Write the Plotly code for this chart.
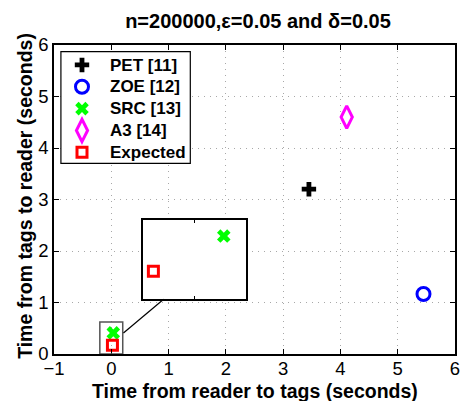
import plotly.graph_objects as go

# Data
names = ["PET [11]", "ZOE [12]", "SRC [13]", "A3 [14]", "Expected"]
x_reader_to_tags = [3.45, 5.45, 0.035, 4.11, 0.02]
y_tags_to_reader = [3.2, 1.165, 0.41, 4.6, 0.17]
colors = ["black", "blue", "#00ff00", "magenta", "red"]
symbols = ["cross", "circle-open", "x", "diamond-tall-open", "square-open"]
sizes = [12, 13, 12, 16, 10]
xticks = [-1, 0, 1, 2, 3, 4, 5, 6]
yticks = [0, 1, 2, 3, 4, 5, 6]

# Zoom region (main axes data coords) and inset view range
zoom_x = [-0.2, 0.2]
zoom_y = [0.0, 0.62]
inset_xr = [0.0177, 0.0398]
inset_yr = [-0.0186, 0.517]

FONT = "Liberation Sans, Arial"

fig = go.Figure()
for i, n in enumerate(names):
    fig.add_trace(go.Scatter(
        x=[x_reader_to_tags[i]], y=[y_tags_to_reader[i]], mode="markers",
        name="<span style='font-size:17px'><b>" + n + "</b></span>",
        marker=dict(symbol=symbols[i], color=colors[i], size=sizes[i],
                    line=dict(color=colors[i], width=3 if "open" in symbols[i] else 0)),
    ))
# inset copies (SRC, Expected)
for i in [2, 4]:
    fig.add_trace(go.Scatter(
        x=[x_reader_to_tags[i]], y=[y_tags_to_reader[i]], mode="markers", showlegend=False,
        xaxis="x2", yaxis="y2",
        marker=dict(symbol=symbols[i], color=colors[i], size=sizes[i],
                    line=dict(color=colors[i], width=3 if "open" in symbols[i] else 0)),
    ))

L, R, T, B = 54, 9, 45, 47
W, H = 469, 401
pw, ph = W - L - R, H - T - B

def px(xp):
    return (xp - L) / pw

def py(yp):
    return (H - B - yp) / ph

inset_dom_x = [px(143.7), px(248.7)]
inset_dom_y = [py(299), py(220.3)]

axis_common = dict(
    showgrid=True, gridcolor="#a8a8a8", griddash="1px,5px", gridwidth=1,
    zeroline=False, showline=True, linecolor="black", linewidth=1.5, mirror="ticks",
    ticks="inside", ticklen=5, tickcolor="black",
    tickfont=dict(family=FONT, size=18.5, color="black"),
)

fig.update_layout(
    width=W, height=H,
    margin=dict(l=L, r=R, t=T, b=B),
    paper_bgcolor="white", plot_bgcolor="white",
    title=dict(text="<b>n=200000,ε=0.05 and δ=0.05</b>", x=258 / W,
               xanchor="center", y=1 - 21 / H, yanchor="middle",
               font=dict(family=FONT, size=20, color="black")),
    xaxis=dict(range=[-1, 6], tickvals=xticks, ticktext=["\u22121"] + [str(v) for v in xticks[1:]],
               ticklabelstandoff=-3, **axis_common),
    yaxis=dict(range=[0, 6], tickvals=yticks, **axis_common),
    xaxis2=dict(domain=inset_dom_x, anchor="y2", range=inset_xr, showgrid=False, zeroline=False,
                showline=True, mirror="ticks", linecolor="black", linewidth=1.5,
                ticks="inside", ticklen=3, tickcolor="black",
                tickvals=[(inset_xr[0] + inset_xr[1]) / 2], showticklabels=False),
    yaxis2=dict(domain=inset_dom_y, anchor="x2", range=inset_yr, showgrid=False, zeroline=False,
                showline=True, mirror=True, linecolor="black", linewidth=1.5,
                ticks="", showticklabels=False),
    legend=dict(x=0, y=py(49), xanchor="left", yanchor="top",
                bgcolor="rgba(0,0,0,0)", borderwidth=0,
                font=dict(family=FONT, size=14.5, color="black"),
                itemwidth=46, tracegroupgap=0),
    showlegend=True,
)

# Legend box (white with black border), drawn under the legend
fig.add_shape(type="rect", xref="paper", yref="paper",
              x0=px(61), x1=px(192), y0=py(163.3), y1=py(51.7),
              fillcolor="white", line=dict(color="black", width=1.2), layer="above")

# Axis titles as annotations
fig.add_annotation(text="<b>Time from reader to tags (seconds)</b>", xref="paper", yref="paper",
                   x=px(257), y=py(390.5), xanchor="center", yanchor="middle", showarrow=False,
                   font=dict(family=FONT, size=19.5, color="black"))
fig.add_annotation(text="<b>Time from tags to reader (seconds)</b>", xref="paper", yref="paper",
                   x=px(24.5), y=py(196), xanchor="center", yanchor="middle", showarrow=False,
                   textangle=-90, font=dict(family=FONT, size=19.5, color="black"))

# White background of inset, small zoom rectangle, connector line
fig.add_shape(type="rect", xref="paper", yref="paper",
              x0=inset_dom_x[0], x1=inset_dom_x[1], y0=inset_dom_y[0], y1=inset_dom_y[1],
              fillcolor="white", line=dict(width=0), layer="between")
fig.add_shape(type="rect", xref="x", yref="y", x0=zoom_x[0], x1=zoom_x[1], y0=zoom_y[0], y1=zoom_y[1],
              line=dict(color="#555555", width=1.5), layer="above")
fig.add_shape(type="line", xref="paper", yref="paper",
              x0=px(124.3), y0=py(333), x1=px(165), y1=py(299.3),
              line=dict(color="black", width=1.2))

fig.write_html("out.html")
